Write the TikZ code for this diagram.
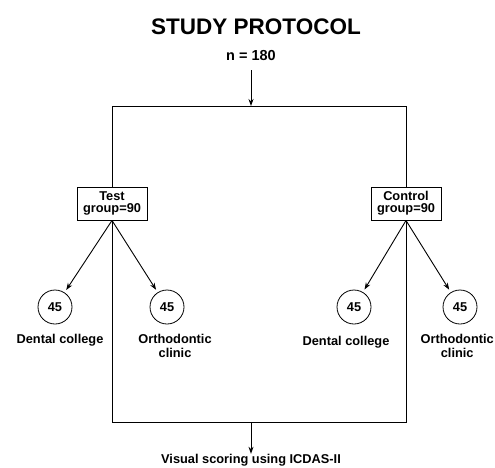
\documentclass[tikz,border=0pt]{standalone}
\usepackage{fontspec}
\setmainfont{Liberation Sans}
\usetikzlibrary{arrows.meta}
\begin{document}
\begin{tikzpicture}[x=1pt,y=-1pt,
  lbl/.style={font=\bfseries\fontsize{12.8}{14}\selectfont, align=center, inner sep=0pt},
  grp/.style={draw, fill=white, line width=0.9pt, font=\bfseries\fontsize{12.8}{13}\selectfont, align=center, inner sep=2pt, minimum width=70pt, minimum height=33pt},
  cnt/.style={draw, circle, line width=0.8pt, minimum size=34pt, inner sep=0pt, font=\bfseries\fontsize{12.8}{14}\selectfont},
  arr/.style={-{Stealth[length=7pt,width=5pt]}, line width=0.9pt},
  frame/.style={line width=0.9pt}]
\useasboundingbox (0,0) rectangle (495,467);
\node[font=\bfseries\fontsize{22.5}{24}\selectfont, inner sep=0pt] (title) at (256,27) {STUDY PROTOCOL};
\node[font=\bfseries\fontsize{14.5}{15}\selectfont, inner sep=1pt] (n) at (251,56) {n = 180};
\coordinate (ntail) at (251,70);
\coordinate (top) at (251,106);
\coordinate (tl) at (112,106);
\coordinate (tr) at (406,106);
\coordinate (bl) at (112,422);
\coordinate (br) at (406,422);
\coordinate (bot) at (251,422);
\draw[arr] (ntail) -- (top);
\draw[frame] (tl) rectangle (br);
\node[grp] (test) at (112,203.5) {Test\\[-1pt]group=90};
\node[grp] (ctrl) at (406,203.5) {Control\\[-1pt]group=90};
\node[cnt] (c1) at (55,307) {45};
\node[cnt] (c2) at (167,307) {45};
\node[cnt] (c3) at (354,307) {45};
\node[cnt] (c4) at (460,307) {45};
\draw[arr, shorten >=3pt] (test.south) -- (c1);
\draw[arr, shorten >=3pt] (test.south) -- (c2);
\draw[arr, shorten >=3pt] (ctrl.south) -- (c3);
\draw[arr, shorten >=3pt] (ctrl.south) -- (c4);
\node[lbl] (l1) at (60,340) {Dental college};
\node[lbl, anchor=north] (l2) at (175,334) {Orthodontic\\clinic};
\node[lbl] (l3) at (346,342) {Dental college};
\node[lbl, anchor=north east] (l4) at (494,334) {Orthodontic\\clinic};
\node[lbl] (vs) at (251,460) {Visual scoring using ICDAS-II};
\draw[arr] (bot) -- (vs.north);
\end{tikzpicture}
\end{document}
